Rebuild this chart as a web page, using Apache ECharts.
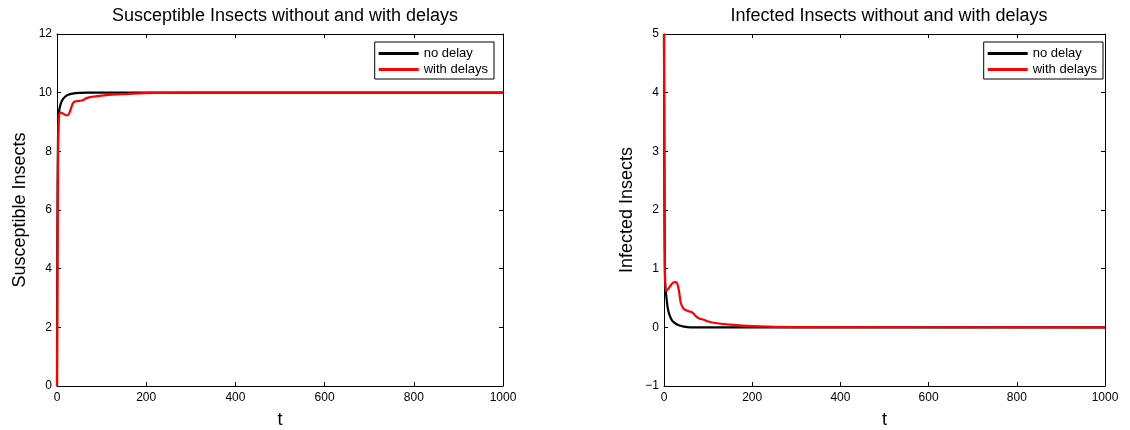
<!DOCTYPE html>
<html><head><meta charset="utf-8">
<script src="https://cdn.jsdelivr.net/npm/echarts@6/dist/echarts.min.js"></script>
<style>html,body{margin:0;padding:0;background:#fff}#c{width:1130px;height:430px}</style>
</head><body><div id="c"></div>
<script>
// Susceptible insects
const tSNoDelay = [0, 1, 2, 3, 5, 8, 12, 18, 25, 35, 50, 70, 100, 1000];
const sNoDelay  = [0, 5.5, 8.0, 9.0, 9.4, 9.6, 9.75, 9.86, 9.93, 9.97, 9.99, 10.0, 10.0, 10.0];
const tSDelay = [0, 1, 2, 3, 5, 8, 12, 18, 24, 30, 35, 40, 50, 58, 64, 72, 85, 100, 130, 170, 220, 300, 1000];
const sDelay  = [0, 4.0, 7.2, 8.6, 9.25, 9.32, 9.3, 9.25, 9.23, 9.4, 9.62, 9.7, 9.72, 9.74, 9.8, 9.84, 9.87, 9.9, 9.94, 9.97, 9.99, 10.0, 10.0];
// Infected insects
const tINoDelay = [0, 1, 2, 3, 5, 8, 12, 18, 25, 35, 45, 60, 1000];
const iNoDelay  = [5, 2.2, 1.0, 0.7, 0.55, 0.35, 0.22, 0.12, 0.07, 0.03, 0.012, 0.0, 0.0];
const tIDelay = [0, 1, 2, 4, 8, 14, 20, 26, 30, 34, 38, 44, 50, 58, 65, 72, 80, 90, 100, 120, 150, 200, 300, 1000];
const iDelay  = [5, 2.5, 1.0, 0.62, 0.64, 0.7, 0.76, 0.77, 0.75, 0.62, 0.42, 0.32, 0.29, 0.27, 0.25, 0.19, 0.15, 0.13, 0.1, 0.07, 0.045, 0.02, 0.005, 0.0];
const xTicks = [0, 200, 400, 600, 800, 1000];

const pairs = (t, v) => t.map((x, i) => [x, v[i]]);
const font = 'Liberation Sans, Arial, Helvetica, sans-serif';
const axisLine = {show: true, onZero: false, lineStyle: {color: '#000', width: 1}};
const tick = {show: true, inside: true, length: 4, lineStyle: {color: '#000'}};
const lbl = {color: '#000', fontSize: 12, fontFamily: font};

function xMain(grid) {
  return {type: 'value', gridIndex: grid, min: xTicks[0], max: xTicks[xTicks.length - 1], interval: 200, position: 'bottom',
    axisLine, axisTick: tick, splitLine: {show: false}, axisLabel: {...lbl, margin: 6, formatter: v => String(v)},
    name: 't', nameLocation: 'middle', nameGap: 25, nameTextStyle: {fontSize: 18, fontFamily: font, color: '#000'}};
}
function xTop(grid) {
  return {type: 'value', gridIndex: grid, min: xTicks[0], max: xTicks[xTicks.length - 1], interval: 200, position: 'top',
    axisLine, axisTick: tick, splitLine: {show: false}, axisLabel: {show: false}};
}
function yMain(grid, min, max, name) {
  return {type: 'value', gridIndex: grid, min, max, interval: (max - min > 6 ? 2 : 1), position: 'left',
    axisLine, axisTick: tick, splitLine: {show: false},
    axisLabel: {...lbl, margin: 5, formatter: v => String(v).replace('-', '\u2212')},
    name, nameLocation: 'middle', nameGap: 28, nameTextStyle: {fontSize: 18, fontFamily: font, color: '#000'}};
}
function yRight(grid, min, max) {
  return {type: 'value', gridIndex: grid, min, max, interval: (max - min > 6 ? 2 : 1), position: 'right',
    axisLine, axisTick: tick, splitLine: {show: false}, axisLabel: {show: false}};
}
function legend(right) {
  return {orient: 'vertical', right, top: 42, data: ['no delay', 'with delays'],
    icon: 'rect', itemWidth: 40, itemHeight: 3, itemGap: 3, padding: [5, 6, 3, 4],
    borderColor: '#000', borderWidth: 1, backgroundColor: '#fff',
    textStyle: {fontSize: 13, fontFamily: font, color: '#000'}, selectedMode: false};
}
const lineSeries = (name, x, y, data, color) => ({
  name, type: 'line', xAxisIndex: x, yAxisIndex: y, data, symbol: 'none', showSymbol: false,
  smooth: 0.3, lineStyle: {color, width: 2.2}, itemStyle: {color}, animation: false, z: name === 'with delays' ? 3 : 2
});

const chart = echarts.init(document.getElementById('c'), null, {renderer: 'canvas'});
chart.setOption({
  animation: false,
  backgroundColor: '#fff',
  title: [
    {text: 'Susceptible Insects without and with delays', left: 280, textAlign: 'center', top: 2,
     textStyle: {fontSize: 18, fontWeight: 'normal', fontFamily: font, color: '#000'}},
    {text: 'Infected Insects without and with delays', left: 884, textAlign: 'center', top: 2,
     textStyle: {fontSize: 18, fontWeight: 'normal', fontFamily: font, color: '#000'}}
  ],
  grid: [
    {left: 57, width: 446, top: 34, height: 352, containLabel: false, outerBoundsMode: 'none'},
    {left: 664, width: 441, top: 34, height: 352, containLabel: false, outerBoundsMode: 'none'}
  ],
  xAxis: [xMain(0), xTop(0), xMain(1), xTop(1)],
  yAxis: [yMain(0, 0, 12, 'Susceptible Insects'), yRight(0, 0, 12), yMain(1, -1, 5, 'Infected Insects'), yRight(1, -1, 5)],
  legend: [legend(636), legend(27)],
  series: [
    lineSeries('no delay', 0, 0, pairs(tSNoDelay, sNoDelay), '#000'),
    lineSeries('with delays', 0, 0, pairs(tSDelay, sDelay), '#ff0000'),
    lineSeries('no delay', 2, 2, pairs(tINoDelay, iNoDelay), '#000'),
    lineSeries('with delays', 2, 2, pairs(tIDelay, iDelay), '#ff0000')
  ]
});
</script></body></html>
